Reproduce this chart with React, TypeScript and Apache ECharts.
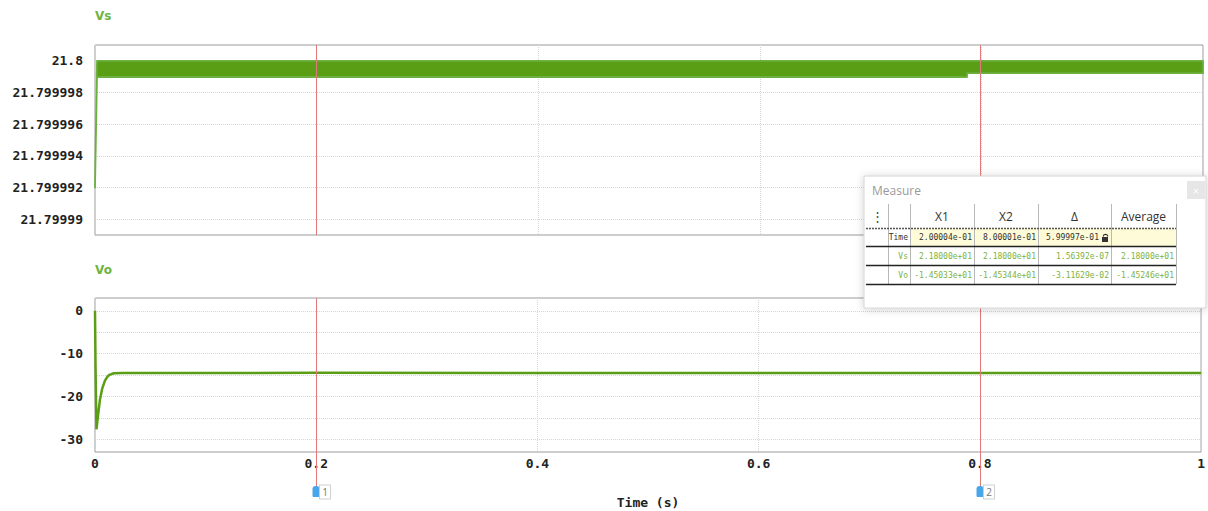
import React, { useEffect, useRef } from "react";
import * as echarts from "echarts";

// ---- data ----
const vsTime = [0, 0.0018, 0.787, 0.7871, 1];
const vsUpper = [21.799992, 21.8, 21.8, 21.8, 21.8];
const vsLower = [21.799992, 21.79999898, 21.79999898, 21.79999923, 21.79999923];

const voTime = [0, 0.0005, 0.0013, 0.0025, 0.0045, 0.0065, 0.009, 0.0115, 0.0135, 0.017, 0.025, 0.2, 0.8, 1];
const voValue = [0, -13.3, -27.7, -25.0, -20.7, -18.2, -16.3, -15.3, -14.9, -14.6, -14.51, -14.503, -14.534, -14.53];

const vsTickValues = [21.79999, 21.799992, 21.799994, 21.799996, 21.799998, 21.8];
const voLabelValues = [-30, -20, -10, 0];
const voGridValues = [-30, -25, -20, -15, -10, -5, 0];

const cursorTimes = [0.200004, 0.800001];
const cursorNames = ["1", "2"];

const measureHeader = ["X1", "X2", "\u0394", "Average"];
const measureRowNames = ["Time", "Vs", "Vo"];
const measureTime = ["2.00004e-01", "8.00001e-01", "5.99997e-01", ""];
const measureVs = ["2.18000e+01", "2.18000e+01", "1.56392e-07", "2.18000e+01"];
const measureVo = ["-1.45033e+01", "-1.45344e+01", "-3.11629e-02", "-1.45246e+01"];

const GREEN = "#5a9e16";
const EDGE = "#6cb040";
const TITLE_GREEN = "#6cb33f";
const CURSOR = "#e07a7a";
const MONO = "'DejaVu Sans Mono', monospace";
const SANS = "'Open Sans', 'Noto Sans', sans-serif";

export default function App() {
  const ref = useRef<HTMLDivElement>(null);
  useEffect(() => {
    document.body.style.margin = "0";
    const chart = echarts.init(ref.current!, null, { renderer: "svg" });
    const splitLine = { show: true, lineStyle: { color: "#d6d6d6", type: "dotted" as const, width: 1 } };
    const vsData = vsTime.map((t, i) => [t, vsUpper[i], vsLower[i]]);
    const option: any = {
      animation: false,
      backgroundColor: "#fff",
      title: [
        { text: "Vs", left: 90, top: 5, textStyle: { color: TITLE_GREEN, fontSize: 12, fontWeight: "bold", fontFamily: "'DejaVu Sans', sans-serif" } },
        { text: "Vo", left: 90, top: 259, textStyle: { color: TITLE_GREEN, fontSize: 12, fontWeight: "bold", fontFamily: "'DejaVu Sans', sans-serif" } },
      ],
      grid: [
        { left: 95, top: 45, width: 1108, height: 190, show: true, borderColor: "#9a9a9a", borderWidth: 1, backgroundColor: "#fff" },
        { left: 95, top: 298, width: 1108, height: 154, show: true, borderColor: "#9a9a9a", borderWidth: 1, backgroundColor: "#fff" },
      ],
      xAxis: [
        {
          type: "value", gridIndex: 0, min: 0, max: 1, interval: 0.2,
          axisLine: { show: false }, axisTick: { show: false }, axisLabel: { show: false },
          splitLine,
        },
        {
          type: "value", gridIndex: 1, min: 0, max: 1, interval: 0.2,
          axisLine: { show: false }, axisTick: { show: false },
          axisLabel: { show: true, margin: 5, color: "#222", fontFamily: MONO, fontWeight: "bold", fontSize: 13, formatter: (v: number) => String(parseFloat(v.toFixed(2))) },
          splitLine,
          name: "Time (s)", nameLocation: "middle", nameGap: 44,
          nameTextStyle: { color: "#222", fontFamily: MONO, fontWeight: "bold", fontSize: 13 },
        },
      ],
      yAxis: [
        {
          type: "value", gridIndex: 0, min: 21.799989, max: 21.800001, scale: true,
          axisLine: { show: false },
          axisTick: { show: false, customValues: vsTickValues },
          axisLabel: {
            customValues: vsTickValues, margin: 12, color: "#222", fontFamily: MONO, fontWeight: "bold", fontSize: 13,
            formatter: (v: number) => String(parseFloat(v.toFixed(6))),
          },
          splitLine,
        },
        {
          type: "value", gridIndex: 1, min: -33, max: 3,
          axisLine: { show: false },
          axisTick: { show: false, customValues: voGridValues },
          axisLabel: { customValues: voLabelValues, margin: 12, color: "#222", fontFamily: MONO, fontWeight: "bold", fontSize: 13 },
          splitLine,
        },
      ],
      series: [
        {
          name: "Vs", type: "custom", xAxisIndex: 0, yAxisIndex: 0, clip: false, z: 3,
          encode: { x: 0, y: [1, 2] },
          data: vsData,
          renderItem: (params: any, api: any) => {
            if (params.dataIndex !== 0) return null;
            const pts: number[][] = [];
            for (let i = 0; i < vsData.length; i++) pts.push(api.coord([vsData[i][0], vsData[i][1]]));
            for (let i = vsData.length - 1; i >= 0; i--) pts.push(api.coord([vsData[i][0], vsData[i][2]]));
            return {
              type: "polygon",
              shape: { points: pts },
              style: { fill: GREEN, stroke: EDGE, lineWidth: 1.8, lineJoin: "round" },
            };
          },
        },
        {
          name: "Vo", type: "line", xAxisIndex: 1, yAxisIndex: 1, showSymbol: false, symbol: "none",
          lineStyle: { color: GREEN, width: 2.5 },
          emphasis: { disabled: true },
          data: voTime.map((t, i) => [t, voValue[i]]),
        },
      ],
    };
    chart.setOption(option);

    // overlay graphics: cursors and measure panel
    const g: any[] = [];
    const topY0 = chart.convertToPixel({ yAxisIndex: 0 }, 21.800001) as number;
    const topY1 = chart.convertToPixel({ yAxisIndex: 0 }, 21.799989) as number;
    const botY0 = chart.convertToPixel({ yAxisIndex: 1 }, 3) as number;
    cursorTimes.forEach((t, i) => {
      const x = Math.round(chart.convertToPixel({ xAxisIndex: 1 }, t) as number) + 0.5;
      g.push({ type: "line", shape: { x1: x, y1: topY0, x2: x, y2: topY1 }, style: { stroke: CURSOR, lineWidth: 1 }, z: 50 });
      g.push({ type: "line", shape: { x1: x, y1: botY0, x2: x, y2: 488 }, style: { stroke: CURSOR, lineWidth: 1 }, z: 50 });
      g.push({ type: "rect", shape: { x: x - 4, y: 486, width: 7, height: 11, r: [3, 3, 1, 1] }, style: { fill: "#4aa6ea" }, z: 51 });
      g.push({ type: "rect", shape: { x: x + 3, y: 485, width: 11, height: 14 }, style: { fill: "#fff", stroke: "#cfcfcf", lineWidth: 1 }, z: 51 });
      g.push({ type: "text", x: x + 8.5, y: 492, style: { text: cursorNames[i], fill: "#777", font: `10px ${SANS}`, align: "center", verticalAlign: "middle" }, z: 52 });
    });

    // measure panel
    const px = 864, py = 176, pw = 342, ph = 132;
    g.push({ type: "rect", shape: { x: px, y: py, width: pw, height: ph }, style: { fill: "#fff", stroke: "#d4d4d4", lineWidth: 1, shadowBlur: 8, shadowColor: "rgba(0,0,0,0.18)", shadowOffsetY: 1 }, z: 60 });
    g.push({ type: "text", x: 872, y: 190, style: { text: "Measure", fill: "#9a9a9a", font: `12px ${SANS}`, verticalAlign: "middle" }, z: 61 });
    g.push({ type: "rect", shape: { x: 1187, y: 181, width: 18, height: 18 }, style: { fill: "#e6e6e6" }, z: 61 });
    g.push({ type: "text", x: 1196, y: 190, style: { text: "\u00d7", fill: "#fff", font: `11px ${SANS}`, align: "center", verticalAlign: "middle" }, z: 62 });

    const colX = [866, 888, 910, 974, 1038, 1111, 1176];
    const headTop = 204;
    const rowY = [228, 246, 265, 284];
    g.push({ type: "rect", shape: { x: colX[2], y: rowY[0], width: colX[6] - colX[2], height: rowY[1] - rowY[0] }, style: { fill: "#fdfbd8" }, z: 61 });
    colX.forEach((x, i) => {
      if (i === 0) return;
      g.push({ type: "line", shape: { x1: x + 0.5, y1: headTop, x2: x + 0.5, y2: rowY[3] }, style: { stroke: "#b8b8b8", lineWidth: 1 }, z: 62 });
    });
    g.push({ type: "text", x: 877, y: 216, style: { text: "\u22ee", fill: "#444", font: `13px ${SANS}`, align: "center", verticalAlign: "middle" }, z: 63 });
    measureHeader.forEach((h, i) => {
      g.push({ type: "text", x: (colX[i + 2] + colX[i + 3]) / 2, y: 216, style: { text: h, fill: "#333", font: `12px ${SANS}`, align: "center", verticalAlign: "middle" }, z: 63 });
    });
    g.push({ type: "line", shape: { x1: colX[0], y1: rowY[0] + 0.5, x2: colX[6], y2: rowY[0] + 0.5 }, style: { stroke: "#555", lineWidth: 1.5, lineDash: [2, 1] }, z: 63 });
    [1, 2, 3].forEach((k) => {
      g.push({ type: "line", shape: { x1: colX[0], y1: rowY[k] + 0.5, x2: colX[6], y2: rowY[k] + 0.5 }, style: { stroke: "#222", lineWidth: 1.5 }, z: 63 });
    });
    const rows = [measureTime, measureVs, measureVo];
    const rowColors = ["#333", "#7cb342", "#7cb342"];
    rows.forEach((vals, r) => {
      const cy = (rowY[r] + rowY[r + 1]) / 2 + 0.5;
      g.push({ type: "text", x: colX[2] - 2, y: cy, style: { text: measureRowNames[r], fill: rowColors[r], font: `8px ${MONO}`, align: "right", verticalAlign: "middle" }, z: 63 });
      vals.forEach((v, c) => {
        if (!v) return;
        const right = colX[c + 3] - (r === 0 && c === 2 ? 12 : 2);
        g.push({ type: "text", x: right, y: cy, style: { text: v, fill: rowColors[r], font: `8px ${MONO}`, align: "right", verticalAlign: "middle" }, z: 63 });
      });
    });
    g.push({ type: "arc", shape: { cx: 1105.5, cy: 236.5, r: 2.2, startAngle: Math.PI, endAngle: Math.PI * 2 }, style: { stroke: "#333", lineWidth: 1.2, fill: "none" }, z: 64 });
    g.push({ type: "rect", shape: { x: 1102, y: 237, width: 6, height: 5 }, style: { fill: "#333" }, z: 64 });

    chart.setOption({ graphic: g });
    return () => chart.dispose();
  }, []);
  return <div ref={ref} style={{ width: 1208, height: 511 }} />;
}
